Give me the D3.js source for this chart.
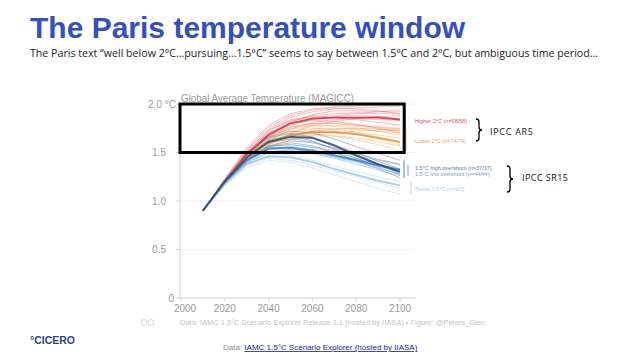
<!DOCTYPE html>
<html>
<head>
<meta charset="utf-8">
<script src="https://cdn.jsdelivr.net/npm/d3@7"></script>
<style>
  body { margin: 0; background: #fff; }
  svg { display: block; }
</style>
</head>
<body>
<div id="slide"></div>
<script>
// decadal years for all pathways
var years = [2010, 2020, 2030, 2040, 2050, 2060, 2070, 2080, 2090, 2100];

// individual pathways, one array per category
var higher2 = [
  [0.9, 1.22, 1.52, 1.74, 1.86, 1.92, 1.95, 1.96, 1.97, 1.98],
  [0.9, 1.20, 1.50, 1.70, 1.82, 1.88, 1.90, 1.91, 1.90, 1.90],
  [0.9, 1.19, 1.46, 1.66, 1.78, 1.84, 1.87, 1.88, 1.87, 1.85],
  [0.9, 1.21, 1.49, 1.72, 1.84, 1.87, 1.86, 1.84, 1.81, 1.78],
  [0.9, 1.18, 1.44, 1.62, 1.74, 1.81, 1.84, 1.85, 1.84, 1.83],
  [0.9, 1.20, 1.50, 1.70, 1.80, 1.83, 1.82, 1.79, 1.75, 1.70],
  [0.9, 1.22, 1.53, 1.76, 1.88, 1.94, 1.96, 1.95, 1.93, 1.90],
  [0.9, 1.17, 1.40, 1.58, 1.70, 1.78, 1.82, 1.85, 1.87, 1.88],
  [0.9, 1.19, 1.45, 1.60, 1.68, 1.72, 1.74, 1.75, 1.74, 1.72],
  [0.9, 1.23, 1.55, 1.78, 1.90, 1.95, 1.97, 1.98, 1.99, 1.99],
  [0.9, 1.21, 1.51, 1.73, 1.83, 1.86, 1.88, 1.90, 1.92, 1.94],
  [0.9, 1.18, 1.43, 1.64, 1.76, 1.80, 1.80, 1.78, 1.76, 1.74],
  [0.9, 1.20, 1.48, 1.69, 1.81, 1.89, 1.93, 1.93, 1.92, 1.92]
];
var lower2 = [
  [0.9, 1.20, 1.46, 1.62, 1.70, 1.74, 1.75, 1.74, 1.72, 1.70],
  [0.9, 1.21, 1.48, 1.66, 1.74, 1.77, 1.77, 1.75, 1.72, 1.68],
  [0.9, 1.18, 1.42, 1.56, 1.64, 1.67, 1.67, 1.65, 1.61, 1.57],
  [0.9, 1.19, 1.44, 1.58, 1.66, 1.70, 1.71, 1.70, 1.68, 1.65],
  [0.9, 1.22, 1.50, 1.68, 1.76, 1.80, 1.80, 1.79, 1.77, 1.75],
  [0.9, 1.20, 1.45, 1.60, 1.67, 1.69, 1.67, 1.63, 1.58, 1.52],
  [0.9, 1.17, 1.40, 1.55, 1.63, 1.68, 1.70, 1.72, 1.73, 1.74],
  [0.9, 1.21, 1.47, 1.64, 1.72, 1.75, 1.74, 1.71, 1.66, 1.60],
  [0.9, 1.19, 1.43, 1.59, 1.68, 1.72, 1.72, 1.69, 1.64, 1.58],
  [0.9, 1.22, 1.49, 1.67, 1.75, 1.78, 1.78, 1.77, 1.75, 1.72]
];
var highOvershoot = [
  [0.9, 1.20, 1.46, 1.62, 1.68, 1.65, 1.58, 1.50, 1.41, 1.33],
  [0.9, 1.21, 1.48, 1.65, 1.70, 1.66, 1.58, 1.48, 1.38, 1.28],
  [0.9, 1.19, 1.43, 1.57, 1.62, 1.60, 1.55, 1.49, 1.43, 1.38],
  [0.9, 1.22, 1.50, 1.66, 1.72, 1.70, 1.64, 1.56, 1.49, 1.42],
  [0.9, 1.18, 1.42, 1.56, 1.60, 1.57, 1.50, 1.42, 1.33, 1.24],
  [0.9, 1.20, 1.45, 1.60, 1.64, 1.61, 1.54, 1.46, 1.38, 1.31],
  [0.9, 1.21, 1.47, 1.63, 1.67, 1.62, 1.53, 1.44, 1.35, 1.27]
];
var lowOvershoot = [
  [0.9, 1.19, 1.42, 1.54, 1.56, 1.53, 1.48, 1.43, 1.38, 1.33],
  [0.9, 1.20, 1.44, 1.56, 1.58, 1.55, 1.50, 1.44, 1.38, 1.32],
  [0.9, 1.18, 1.40, 1.51, 1.52, 1.49, 1.44, 1.38, 1.32, 1.26],
  [0.9, 1.21, 1.45, 1.57, 1.58, 1.56, 1.52, 1.47, 1.42, 1.37],
  [0.9, 1.18, 1.39, 1.50, 1.53, 1.51, 1.47, 1.42, 1.36, 1.30],
  [0.9, 1.19, 1.41, 1.53, 1.54, 1.50, 1.45, 1.40, 1.34, 1.28],
  [0.9, 1.20, 1.43, 1.55, 1.55, 1.51, 1.46, 1.41, 1.36, 1.31]
];
var below15 = [
  [0.9, 1.18, 1.38, 1.46, 1.45, 1.40, 1.33, 1.27, 1.21, 1.16],
  [0.9, 1.17, 1.36, 1.44, 1.42, 1.37, 1.31, 1.25, 1.19, 1.13],
  [0.9, 1.19, 1.40, 1.48, 1.47, 1.42, 1.36, 1.30, 1.25, 1.20],
  [0.9, 1.16, 1.34, 1.42, 1.40, 1.34, 1.27, 1.20, 1.13, 1.07]
];

// category medians (bold lines)
var higher2Median = [0.9, 1.20, 1.48, 1.68, 1.80, 1.85, 1.86, 1.86, 1.86, 1.84];
var lower2Median = [0.9, 1.20, 1.46, 1.60, 1.68, 1.71, 1.71, 1.69, 1.65, 1.61];
var highOvershootMedian = [0.9, 1.20, 1.45, 1.61, 1.66, 1.65, 1.57, 1.47, 1.38, 1.30];
var lowOvershootMedian = [0.9, 1.20, 1.42, 1.54, 1.55, 1.52, 1.47, 1.42, 1.37, 1.32];
var below15Median = [0.9, 1.18, 1.38, 1.46, 1.45, 1.40, 1.33, 1.27, 1.21, 1.16];

var categoryLabels = ["Higher 2°C (n=58/58)", "Lower 2°C (n=74/74)",
  "1.5°C high overshoot (n=37/37)", "1.5°C low overshoot (n=44/44)", "Below 1.5°C (n=9/9)"];

var yTicks = [0, 0.5, 1.0, 1.5, 2.0];
var xTicks = [2000, 2020, 2040, 2060, 2080, 2100];
var parisWindow = [1.5, 2.0];

// drawing order: warm first, blues on top
var categories = [
  {name: categoryLabels[0], paths: higher2, median: higher2Median, thin: "#ec6a73", bold: "#d0283a", label: "#d9545f", ly: 121},
  {name: categoryLabels[1], paths: lower2, median: lower2Median, thin: "#f6a95c", bold: "#ec8a2c", label: "#f0a35a", ly: 141},
  {name: categoryLabels[4], paths: below15, median: below15Median, thin: "#a9cbe9", bold: "#9cc4e6", label: "#b3cfe8", ly: 189},
  {name: categoryLabels[3], paths: lowOvershoot, median: lowOvershootMedian, thin: "#5f9bd3", bold: "#3b7dc2", label: "#7c9cc0", ly: 174},
  {name: categoryLabels[2], paths: highOvershoot, median: highOvershootMedian, thin: "#4d76a3", bold: "#2a4a6e", label: "#5b7ca3", ly: 168}
];

var svg = d3.select("#slide").append("svg")
  .attr("width", 638)
  .attr("height", 359);

svg.append("rect").attr("width", 638).attr("height", 359).attr("fill", "#fff");

// slide title and subtitle
svg.append("text")
  .attr("x", 30).attr("y", 38)
  .style("font-family", "Liberation Sans, Arial, sans-serif")
  .style("font-weight", "bold")
  .style("font-size", "30px")
  .attr("fill", "#3550b8")
  .text("The Paris temperature window");

svg.append("text")
  .attr("x", 30).attr("y", 57)
  .style("font-family", "Open Sans, sans-serif")
  .style("font-size", "11px")
  .attr("fill", "#222")
  .attr("textLength", 568)
  .attr("lengthAdjust", "spacingAndGlyphs")
  .text("The Paris text \u201cwell below 2°C\u2026pursuing\u20261.5°C\u201d seems to say between 1.5°C and 2°C, but ambiguous time period\u2026");

var x = d3.scaleLinear().domain([2000, 2100]).range([181, 400]);
var y = d3.scaleLinear().domain([0, 2]).range([298, 104]);

var chart = svg.append("g")
  .style("font-family", "Liberation Sans, Arial, sans-serif");

// gridlines
chart.selectAll(".grid").data(yTicks.filter(function(d) { return d > 0; }))
  .enter().append("line")
  .attr("class", "grid")
  .attr("x1", x(2000)).attr("x2", 415)
  .attr("y1", function(d) { return y(d); })
  .attr("y2", function(d) { return y(d); })
  .attr("stroke", "#f1f1f1");

// axes lines
chart.append("line")
  .attr("x1", x(2000) - 1).attr("x2", x(2000) - 1)
  .attr("y1", y(2)).attr("y2", y(0))
  .attr("stroke", "#d0d0d0");
chart.append("line")
  .attr("x1", x(2000) - 1).attr("x2", 415)
  .attr("y1", y(0)).attr("y2", y(0))
  .attr("stroke", "#d0d0d0");

chart.selectAll(".ytick").data(yTicks).enter().append("line")
  .attr("x1", x(2000) - 5).attr("x2", x(2000) - 1)
  .attr("y1", function(d) { return y(d); })
  .attr("y2", function(d) { return y(d); })
  .attr("stroke", "#d0d0d0");

chart.selectAll(".ylab").data(yTicks).enter().append("text")
  .attr("x", function(d) { return d === 2 ? 176 : (d === 0 ? 174 : 166); })
  .attr("y", function(d) { return y(d) + 3.5; })
  .attr("text-anchor", "end")
  .style("font-size", "10px")
  .attr("fill", "#999")
  .text(function(d) { return d === 0 ? "0" : (d === 2 ? d3.format(".1f")(d) + " °C" : d3.format(".1f")(d)); });

chart.selectAll(".xtick").data(xTicks).enter().append("line")
  .attr("x1", function(d) { return x(d); })
  .attr("x2", function(d) { return x(d); })
  .attr("y1", y(0)).attr("y2", y(0) + 3)
  .attr("stroke", "#d0d0d0");

chart.selectAll(".xlab").data(xTicks).enter().append("text")
  .attr("x", function(d) { return x(d) + (d === 2000 ? 4 : 0); })
  .attr("y", 312)
  .attr("text-anchor", "middle")
  .style("font-size", "10px")
  .attr("fill", "#999")
  .text(function(d) { return d; });

chart.append("text")
  .attr("x", 181).attr("y", 102)
  .style("font-size", "11px")
  .attr("fill", "#9a9a9a")
  .attr("textLength", 173)
  .attr("lengthAdjust", "spacingAndGlyphs")
  .text("Global Average Temperature (MAGICC)");

// pathways
var line = d3.line()
  .x(function(d, i) { return x(years[i]); })
  .y(function(d) { return y(d); });

categories.forEach(function(cat) {
  chart.append("g").selectAll("path").data(cat.paths).enter().append("path")
    .attr("d", line)
    .attr("fill", "none")
    .attr("stroke", cat.thin)
    .attr("stroke-width", 1)
    .attr("stroke-opacity", 0.45);
});
categories.forEach(function(cat) {
  chart.append("path")
    .datum(cat.median)
    .attr("d", line)
    .attr("fill", "none")
    .attr("stroke", cat.bold)
    .attr("stroke-width", 1.8)
    .attr("stroke-opacity", 0.85);
});

// end-of-century ranges
categories.forEach(function(cat, i) {
  var ends = cat.paths.map(function(p) { return p[p.length - 1]; });
  var bx = [405, 406, 411, 408, 404][i];
  chart.append("line")
    .attr("x1", bx).attr("x2", bx)
    .attr("y1", y(d3.max(ends)))
    .attr("y2", y(d3.min(ends)))
    .attr("stroke", cat.thin)
    .attr("stroke-width", 1.5)
    .attr("stroke-opacity", 0.6);
});

// category labels
chart.selectAll(".catlab").data(categories).enter().append("text")
  .attr("x", 415)
  .attr("y", function(d) { return d.ly + 2; })
  .style("font-size", "5.5px")
  .attr("fill", function(d) { return d.label; })
  .text(function(d) { return d.name; });

// the Paris window box
svg.append("rect")
  .attr("x", x(2000) - 1)
  .attr("y", y(parisWindow[1]))
  .attr("width", x(2101) - x(2000) + 3)
  .attr("height", y(parisWindow[0]) - y(parisWindow[1]))
  .attr("fill", "none")
  .attr("stroke", "#000")
  .attr("stroke-width", 3);

// curly braces
function brace(xb, y0, y1, w) {
  var m = (y0 + y1) / 2;
  return "M" + xb + "," + y0 +
    " Q" + (xb + w * 0.5) + "," + y0 + " " + (xb + w * 0.5) + "," + (y0 + 3) +
    " L" + (xb + w * 0.5) + "," + (m - 3) +
    " Q" + (xb + w * 0.5) + "," + m + " " + (xb + w) + "," + m +
    " Q" + (xb + w * 0.5) + "," + m + " " + (xb + w * 0.5) + "," + (m + 3) +
    " L" + (xb + w * 0.5) + "," + (y1 - 3) +
    " Q" + (xb + w * 0.5) + "," + y1 + " " + xb + "," + y1;
}

svg.append("path")
  .attr("d", brace(476, 119, 141, 6))
  .attr("fill", "none").attr("stroke", "#000").attr("stroke-width", 1.3);
svg.append("path")
  .attr("d", brace(507, 166, 192, 6))
  .attr("fill", "none").attr("stroke", "#000").attr("stroke-width", 1.3);

svg.append("text")
  .attr("x", 490).attr("y", 134.5)
  .style("font-family", "Open Sans, sans-serif")
  .style("font-size", "9px")
  .attr("fill", "#111")
  .attr("textLength", 43)
  .text("IPCC AR5");
svg.append("text")
  .attr("x", 522).attr("y", 181)
  .style("font-family", "Open Sans, sans-serif")
  .style("font-size", "9px")
  .attr("fill", "#111")
  .attr("textLength", 46)
  .text("IPCC SR15");

// cc icons and chart source
[144, 151].forEach(function(cx) {
  svg.append("circle").attr("cx", cx).attr("cy", 322.5).attr("r", 3)
    .attr("fill", "none").attr("stroke", "#c8c8c8").attr("stroke-width", 0.8);
});
svg.append("text")
  .attr("x", 180).attr("y", 325)
  .style("font-family", "Liberation Sans, Arial, sans-serif")
  .style("font-size", "6.5px")
  .attr("fill", "#c4c4c4")
  .attr("textLength", 305)
  .attr("lengthAdjust", "spacingAndGlyphs")
  .text("Data: IAMC 1.5°C Scenario Explorer Release 1.1 (hosted by IIASA)  \u2022  Figure: @Peters_Glen");

// footer
svg.append("text")
  .attr("x", 30).attr("y", 344)
  .style("font-family", "Liberation Sans, Arial, sans-serif")
  .style("font-weight", "bold")
  .style("font-size", "10.5px")
  .attr("fill", "#2f3f86")
  .text("°CICERO");

var foot = svg.append("text")
  .attr("x", 223).attr("y", 350)
  .style("font-family", "Liberation Sans Narrow, Liberation Sans, Arial, sans-serif")
  .style("font-size", "8px");
foot.append("tspan").attr("fill", "#8a8a8a").text("Data: ");
foot.append("tspan").attr("fill", "#1a1aa6")
  .style("text-decoration", "underline")
  .attr("textLength", 173)
  .attr("lengthAdjust", "spacingAndGlyphs")
  .text("IAMC 1.5°C Scenario Explorer (hosted by IIASA)");
</script>
</body>
</html>
